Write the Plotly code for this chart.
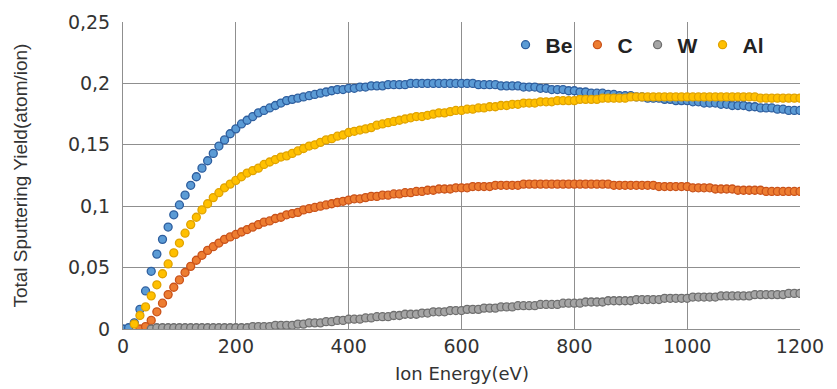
import plotly.graph_objects as go

energy = list(range(0, 1210, 10))

be = [0.000, 0.001, 0.005, 0.016, 0.031, 0.047, 0.061, 0.073, 0.083, 0.093,
      0.101, 0.109, 0.117, 0.124, 0.131, 0.137, 0.143, 0.149, 0.154, 0.159,
      0.163, 0.167, 0.170, 0.173, 0.176, 0.178, 0.180, 0.182, 0.184, 0.186,
      0.187, 0.188, 0.189, 0.190, 0.191, 0.192, 0.193, 0.194, 0.195, 0.195,
      0.196, 0.196, 0.197, 0.197, 0.198, 0.198, 0.198, 0.199, 0.199, 0.199,
      0.199, 0.200, 0.200, 0.200, 0.200, 0.200, 0.200, 0.200, 0.200, 0.200,
      0.200, 0.200, 0.200, 0.199, 0.199, 0.199, 0.199, 0.198, 0.198, 0.198,
      0.198, 0.197, 0.197, 0.197, 0.196, 0.196, 0.195, 0.195, 0.195, 0.194,
      0.194, 0.193, 0.193, 0.192, 0.192, 0.192, 0.191, 0.191, 0.190, 0.190,
      0.190, 0.189, 0.189, 0.188, 0.188, 0.188, 0.187, 0.187, 0.186, 0.186,
      0.186, 0.185, 0.185, 0.184, 0.184, 0.184, 0.183, 0.183, 0.182, 0.182,
      0.182, 0.181, 0.181, 0.180, 0.180, 0.180, 0.179, 0.179, 0.178, 0.178,
      0.178]

c = [None, None, None, 0.000, 0.002, 0.007, 0.014, 0.021, 0.028, 0.034,
     0.040, 0.046, 0.051, 0.056, 0.060, 0.064, 0.067, 0.070, 0.073, 0.075,
     0.077, 0.079, 0.081, 0.083, 0.085, 0.087, 0.088, 0.090, 0.091, 0.093,
     0.094, 0.095, 0.097, 0.098, 0.099, 0.100, 0.101, 0.102, 0.103, 0.104,
     0.105, 0.106, 0.106, 0.107, 0.108, 0.108, 0.109, 0.109, 0.110, 0.110,
     0.111, 0.111, 0.112, 0.112, 0.113, 0.113, 0.114, 0.114, 0.114, 0.115,
     0.115, 0.115, 0.116, 0.116, 0.116, 0.116, 0.117, 0.117, 0.117, 0.117,
     0.117, 0.118, 0.118, 0.118, 0.118, 0.118, 0.118, 0.118, 0.118, 0.118,
     0.118, 0.118, 0.118, 0.118, 0.118, 0.118, 0.118, 0.117, 0.117, 0.117,
     0.117, 0.117, 0.117, 0.117, 0.117, 0.116, 0.116, 0.116, 0.116, 0.116,
     0.116, 0.115, 0.115, 0.115, 0.115, 0.114, 0.114, 0.114, 0.114, 0.113,
     0.113, 0.113, 0.113, 0.113, 0.112, 0.112, 0.112, 0.112, 0.112, 0.112,
     0.112]

w = [None, None, None, None, None, 0.000, 0.001, 0.001, 0.001, 0.001,
     0.001, 0.001, 0.001, 0.001, 0.001, 0.001, 0.001, 0.001, 0.001, 0.001,
     0.001, 0.001, 0.001, 0.002, 0.002, 0.002, 0.002, 0.003, 0.003, 0.003,
     0.003, 0.004, 0.004, 0.005, 0.005, 0.005, 0.006, 0.006, 0.007, 0.007,
     0.008, 0.008, 0.008, 0.009, 0.009, 0.010, 0.010, 0.010, 0.011, 0.011,
     0.012, 0.012, 0.012, 0.013, 0.013, 0.014, 0.014, 0.014, 0.015, 0.015,
     0.015, 0.016, 0.016, 0.016, 0.017, 0.017, 0.017, 0.018, 0.018, 0.018,
     0.019, 0.019, 0.019, 0.019, 0.020, 0.020, 0.020, 0.020, 0.021, 0.021,
     0.021, 0.021, 0.022, 0.022, 0.022, 0.022, 0.023, 0.023, 0.023, 0.023,
     0.023, 0.024, 0.024, 0.024, 0.024, 0.024, 0.025, 0.025, 0.025, 0.025,
     0.025, 0.026, 0.026, 0.026, 0.026, 0.026, 0.027, 0.027, 0.027, 0.027,
     0.027, 0.027, 0.028, 0.028, 0.028, 0.028, 0.028, 0.028, 0.029, 0.029,
     0.029]

al = [None, None, 0.004, 0.011, 0.018, 0.027, 0.036, 0.045, 0.053, 0.062,
      0.070, 0.078, 0.085, 0.091, 0.097, 0.102, 0.107, 0.111, 0.115, 0.118,
      0.121, 0.124, 0.127, 0.129, 0.131, 0.134, 0.136, 0.138, 0.140, 0.141,
      0.143, 0.145, 0.147, 0.149, 0.150, 0.152, 0.154, 0.155, 0.157, 0.158,
      0.160, 0.161, 0.162, 0.163, 0.164, 0.166, 0.167, 0.168, 0.169, 0.170,
      0.171, 0.172, 0.173, 0.173, 0.174, 0.175, 0.176, 0.176, 0.177, 0.178,
      0.178, 0.179, 0.179, 0.180, 0.180, 0.181, 0.181, 0.182, 0.182, 0.183,
      0.183, 0.184, 0.184, 0.184, 0.185, 0.185, 0.185, 0.186, 0.186, 0.186,
      0.186, 0.187, 0.187, 0.187, 0.187, 0.188, 0.188, 0.188, 0.188, 0.188,
      0.189, 0.189, 0.189, 0.189, 0.189, 0.189, 0.189, 0.189, 0.189, 0.189,
      0.189, 0.189, 0.189, 0.189, 0.189, 0.189, 0.189, 0.189, 0.189, 0.189,
      0.189, 0.189, 0.189, 0.188, 0.188, 0.188, 0.188, 0.188, 0.188, 0.188,
      0.188]

series_names = ["Be", "C", "W", "Al"]
series_values = [be, c, w, al]
fill_colors = ["#5B9BD5", "#ED7D31", "#A5A5A5", "#FFC000"]
edge_colors = ["#2E5E9E", "#C9521A", "#6E6E6E", "#E0A200"]

x_ticks = [0, 200, 400, 600, 800, 1000, 1200]
y_ticks = [0, 0.05, 0.1, 0.15, 0.2, 0.25]
y_tick_labels = ["0", "0,05", "0,1", "0,15", "0,2", "0,25"]

fig = go.Figure()
for name, vals, fc, ec in zip(series_names, series_values, fill_colors, edge_colors):
    fig.add_trace(go.Scatter(
        x=energy, y=vals, name=name, mode="markers",
        marker=dict(symbol="circle", size=8, color=fc,
                    line=dict(color=ec, width=1.3)),
    ))

grid = "#8f8f8f"
fig.update_layout(
    width=837, height=389,
    margin=dict(l=123, r=37, t=22, b=60, autoexpand=False),
    paper_bgcolor="white", plot_bgcolor="white",
    separators=", ",
    showlegend=True,
    legend=dict(orientation="h", x=0.955, xanchor="right", y=0.925, yanchor="middle",
                font=dict(family="Liberation Sans", size=21, color="#222", weight="bold"),
                bgcolor="rgba(0,0,0,0)", itemwidth=30, tracegroupgap=0),
    xaxis=dict(range=[0, 1200], tickvals=x_ticks, showgrid=True, gridcolor=grid, gridwidth=1,
               showline=True, linecolor=grid, linewidth=1, mirror=False, zeroline=False,
               automargin=False, ticks="",
               tickfont=dict(family="DejaVu Sans", size=19, color="#333")),
    yaxis=dict(range=[0, 0.25], tickvals=y_ticks, ticktext=y_tick_labels, showgrid=True,
               gridcolor=grid, gridwidth=1, showline=True, linecolor=grid, linewidth=1,
               zeroline=False, ticks="", ticklabelstandoff=8, automargin=False,
               tickfont=dict(family="DejaVu Sans", size=19, color="#333")),
    annotations=[
        dict(text="Total Sputtering Yield(atom/ion)", xref="paper", yref="paper",
             x=-0.152, y=0.5, textangle=-90, showarrow=False, xanchor="center", yanchor="middle",
             font=dict(family="Liberation Sans", size=19, color="#333")),
        dict(text="Ion Energy(eV)", xref="paper", yref="paper",
             x=0.5, y=-0.145, showarrow=False, xanchor="center", yanchor="middle",
             font=dict(family="DejaVu Sans", size=18, color="#333")),
    ],
)

fig.write_html("out.html", config={"displayModeBar": False})

with open("out.html", "r", encoding="utf-8") as f:
    html = f.read()
html = html.replace("<head>", "<head><style>html,body{margin:0;padding:0;overflow:hidden;}</style>", 1)
with open("out.html", "w", encoding="utf-8") as f:
    f.write(html)
